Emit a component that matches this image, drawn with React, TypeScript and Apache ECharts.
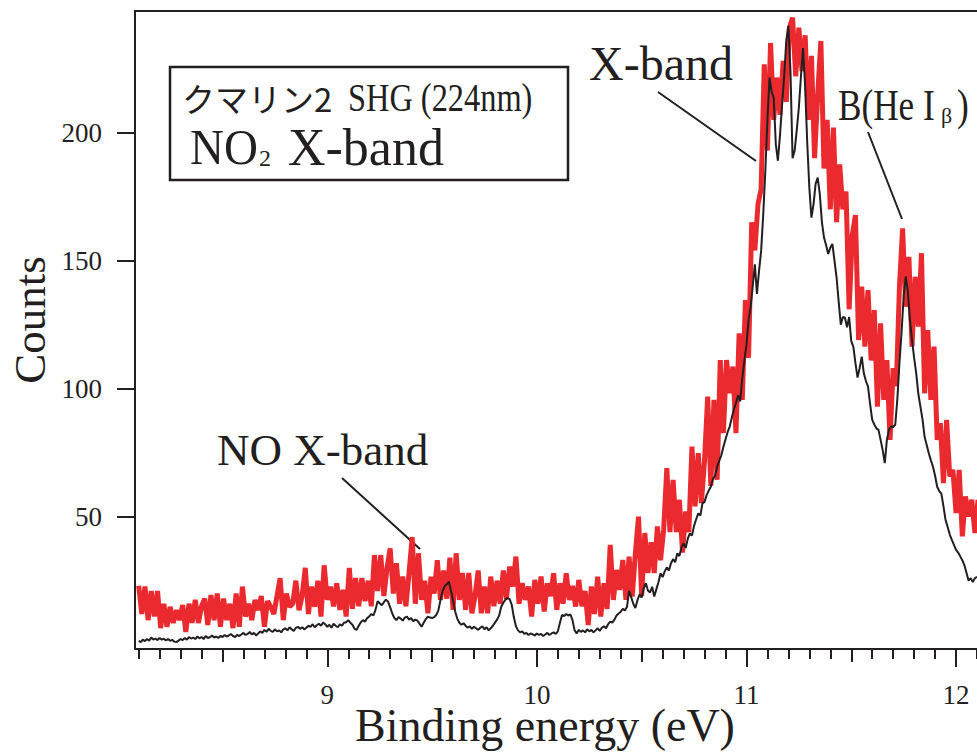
import React, { useEffect, useRef } from "react";
import * as echarts from "echarts";

// Photoelectron spectrum of NO2 (X-band), binding energy in eV vs counts.
// Black trace sampled every 0.01 eV, red trace every 0.015 eV, both starting at 8.10 eV.
const BLACK_START = 8.1;
const BLACK_STEP = 0.01;
const blackCounts = [
  1.5, 1.0, 2.0, 1.4, 2.2, 1.6, 2.8, 2.0, 2.4, 1.8,
  2.6, 2.0, 2.3, 1.7, 2.2, 1.5, 1.9, 1.2, 1.0, 1.6,
  2.2, 1.8, 2.6, 2.0, 3.0, 2.4, 2.8, 2.2, 3.2, 2.5,
  3.0, 2.2, 3.4, 2.6, 2.9, 3.6, 2.8, 3.2, 2.6, 3.4,
  3.0, 3.8, 3.2, 3.6, 4.2, 3.4, 3.0, 3.8, 3.4, 4.0,
  4.6, 3.8, 4.2, 5.0, 4.0, 4.6, 3.6, 4.4, 5.2, 4.6,
  5.8, 5.0, 6.2, 5.4, 5.0, 6.0, 5.2, 5.6, 4.8, 6.0,
  6.4, 5.6, 6.8, 6.0, 5.4, 6.6, 7.0, 6.2, 6.8, 6.0,
  6.6, 7.4, 7.0, 8.0, 6.8, 7.6, 8.2, 7.4, 8.6, 8.0,
  7.0, 7.8, 6.6, 8.2, 7.4, 6.8, 8.0, 7.4, 8.6, 8.8,
  9.6, 8.6, 7.8, 6.2, 5.8, 7.4, 8.8, 9.6, 9.0, 10.4,
  11.0, 12.0, 11.4, 13.6, 17.0, 16.2, 15.4, 16.6, 17.6, 16.8,
  14.6, 12.2, 10.4, 9.6, 10.8, 10.2, 9.4, 10.6, 11.0, 9.8,
  10.4, 9.2, 9.8, 9.4, 8.2, 7.0, 8.6, 10.0, 11.0, 10.6,
  10.4, 10.8, 11.6, 13.4, 17.4, 21.0, 22.8, 23.6, 24.6, 21.2,
  17.2, 13.0, 10.2, 8.6, 7.8, 8.4, 7.4, 6.6, 7.2, 6.2,
  7.0, 6.4, 5.8, 6.6, 7.2, 6.0, 6.8, 5.6, 6.4, 7.4,
  8.6, 9.8, 11.4, 14.8, 16.4, 17.6, 18.2, 17.8, 15.6, 10.8,
  7.2, 5.6, 4.8, 5.2, 4.2, 4.6, 3.8, 4.4, 4.0, 3.6,
  4.4, 3.8, 4.2, 3.4, 4.0, 4.6, 3.8, 4.4, 4.8, 4.2,
  5.2, 8.6, 11.6, 11.2, 12.0, 11.4, 11.8, 9.6, 5.6, 4.4,
  5.8, 5.0, 5.6, 4.8, 6.0, 5.2, 5.8, 4.8, 5.6, 6.4,
  5.4, 6.6, 7.2, 6.4, 8.0, 9.0, 8.6, 9.8, 11.4, 12.2,
  12.9, 14.0, 13.4, 14.8, 21.0, 18.6, 16.0, 14.3, 17.4, 19.6,
  18.4, 22.0, 24.0, 21.2, 20.4, 22.6, 18.8, 21.6, 24.4, 27.9,
  26.4, 28.6, 30.2, 29.0, 31.8, 33.4, 32.2, 35.7, 34.6, 38.0,
  39.6, 37.8, 41.4, 43.5, 42.6, 46.4, 49.0, 51.3, 50.4, 55.2,
  55.8, 58.4, 60.2, 61.7, 64.6, 66.0, 69.5, 71.8, 74.0, 77.3,
  80.2, 83.0, 85.2, 88.6, 92.0, 94.3, 97.4, 95.0, 104, 111,
  117, 126.8, 132, 140, 148.6, 137, 146, 153.8, 168, 185,
  205, 221.5, 216, 213.7, 195.5, 189, 199, 211, 222, 236,
  241.7, 224, 190, 193, 201, 209.8, 222, 233, 218, 196,
  178.5, 166.8, 172, 180, 182.4, 176, 165, 159, 156, 152.6,
  155, 156.5, 150, 143.4, 134, 125, 128, 127.7, 124, 128,
  118.6, 116.4, 110, 104.3, 108, 112.5, 106, 103, 100.8, 94,
  87.8, 86, 84.5, 83.9, 80, 76, 70.9, 80, 84, 85.2,
  85, 86, 96, 110, 122, 136, 143.8, 138, 126.8, 119,
  112, 106, 98, 93, 88, 81.2, 78, 74.8, 72, 69.5,
  66, 61.7, 60, 59, 54, 48.7, 46, 43, 40.9, 39,
  37, 36, 34.5, 33, 31, 28, 25, 26, 24.5, 26,
  26.5,
];

const RED_START = 8.1;
const RED_STEP = 0.015;
const redCounts = [
  // 8.100 – 9.030
  23, 12, 22.7, 9.6, 21, 11, 21, 6.5, 16, 7,
  14.8, 8.5, 13.5, 9.6, 15.5, 5, 16, 8.5, 17.5, 8.5,
  15, 18, 7.7, 19.4, 9.6, 20, 7, 18, 9.6, 16,
  6.5, 20, 7, 22.7, 11, 16, 9.6, 17.5, 13.5, 19,
  7, 17, 14.8, 12, 19, 26, 9.6, 20, 14.8, 16,
  25, 13.5, 19, 30, 12, 22.7, 14.8, 25, 11, 31,
  17.5, 22.7, 15,
  // 9.045 – 10.005
  24, 13.6, 21.4, 11, 30, 14, 26, 15, 26, 17,
  25, 15, 35, 21, 35, 19, 30, 37.6, 20, 31.8,
  16, 26.6, 15, 28, 42, 16, 35.7, 17.5, 25, 12.3,
  26.6, 20, 33, 17.5, 29, 18, 34, 13.6, 35.7, 17.5,
  28, 13.6, 28, 12.3, 19, 29, 12.3, 22.7, 12.3, 26.6,
  15, 25, 16, 29, 18, 30.5, 22.7, 34.4, 16, 24,
  17.5, 22.7, 11, 25.3, 16,
  // 10.020 – 10.995
  26.6, 13, 24, 19, 27.9, 13.6, 24, 16, 27.9, 17.5,
  23, 14.9, 25.3, 15, 21, 7.7, 22.7, 12, 26.6, 11,
  24, 14, 39, 17.5, 29.2, 21.4, 33.1, 17.5, 34.4, 18.8,
  35.7, 50, 19, 43.6, 28, 40, 28, 46.2, 33, 45,
  69, 44, 64.4, 44, 56.6, 36, 52, 44, 77.4, 54,
  74.8, 55.3, 72, 96.9, 62, 95.6, 64.4, 111.2, 82.6, 111.2,
  98.2, 108.6, 82.6, 121.6, 95.6, 134.6,
  // 11.010 – 11.505
  112, 165, 154, 172, 178, 226.7, 193, 235, 205, 221.5,
  207, 228, 212, 241, 244.9, 222, 241, 224, 238, 205,
  230, 190, 215, 235.8, 186, 205, 170, 202, 165, 187.6,
  170, 177, 131, 160,
  // 11.520 – 12.105
  167.8, 119, 139.8, 116.4, 138.5, 111, 130.7, 93, 125.5, 95.6,
  111.2, 80, 108, 101, 139.8, 162.6, 132, 151.5, 116.4, 143.7,
  124.2, 152.9, 98.2, 122.9, 95.6, 116.4, 80, 86.5, 63.1, 87.8,
  65.7, 68.3, 51.4, 68.3, 42.3, 57.9, 50.1, 56.6, 43.6, 56.6,
];

const majorTicks = [9, 10, 11, 12];
const halfTicks = [8.5, 9.5, 10.5, 11.5];
const yTicks = [50, 100, 150, 200];

const X_MIN = 8.0825;
const X_MAX = 12.1;
const Y_MIN = -1.68;
const Y_MAX = 247.5;

const INK = "#231f20";
const RED = "#ea2a2f";
const SERIF = '"Liberation Serif", "Times New Roman", serif';
const CJK = '"Noto Sans CJK JP", sans-serif';

const toPairs = (start: number, step: number, vals: number[]) =>
  vals.map((v, i) => [Math.round((start + i * step) * 1000) / 1000, v]);

const txt = (
  text: string,
  x: number,
  y: number,
  size: number,
  extra: Record<string, any> = {},
  family: string = SERIF,
  lineHeight?: number
) => ({
  type: "text",
  x,
  y,
  silent: true,
  ...extra,
  style: {
    text,
    fill: INK,
    fontSize: size,
    fontFamily: family,
    lineHeight: lineHeight || size,
    align: extra.align || "left",
    textAlign: extra.align || "left",
    verticalAlign: "middle",
    textVerticalAlign: "middle",
  },
});

const line = (x1: number, y1: number, x2: number, y2: number, w = 2) => ({
  type: "line",
  silent: true,
  shape: { x1, y1, x2, y2 },
  style: { stroke: INK, lineWidth: w },
});

export default function App() {
  const ref = useRef<HTMLDivElement>(null);

  useEffect(() => {
    if (!ref.current) return;
    const chart = echarts.init(ref.current, null, { renderer: "svg" });

    const minorTicks: number[] = [];
    for (let k = 81; k <= 121; k++) {
      if (k % 5 !== 0) minorTicks.push(k / 10);
    }

    const tickAxis = (values: number[], length: number, withLine: boolean, withLabel: boolean) => ({
      type: "value",
      min: X_MIN,
      max: X_MAX,
      position: "bottom",
      axisLine: { show: withLine, onZero: false, lineStyle: { color: INK, width: 2 } },
      axisTick: { show: true, customValues: values, length, lineStyle: { color: INK, width: 2 } },
      axisLabel: {
        show: withLabel,
        customValues: values,
        margin: 35,
        fontSize: 27,
        lineHeight: 22,
        fontFamily: SERIF,
        color: INK,
      },
      splitLine: { show: false },
    });

    const option: any = {
      animation: false,
      backgroundColor: "#ffffff",
      grid: { left: 135, right: 0, top: 11, bottom: 103, containLabel: false },
      xAxis: [
        tickAxis(majorTicks, 18, true, true),
        tickAxis(halfTicks, 13, false, false),
        tickAxis(minorTicks, 10, false, false),
      ],
      yAxis: {
        type: "value",
        min: Y_MIN,
        max: Y_MAX,
        axisLine: { show: true, onZero: false, lineStyle: { color: INK, width: 2 } },
        axisTick: { show: true, customValues: yTicks, length: 18, lineStyle: { color: INK, width: 2 } },
        axisLabel: {
          customValues: yTicks,
          margin: 33,
          fontSize: 27,
          fontFamily: SERIF,
          color: INK,
        },
        splitLine: { show: false },
      },
      series: [
        {
          name: "red",
          type: "line",
          xAxisIndex: 0,
          yAxisIndex: 0,
          data: toPairs(RED_START, RED_STEP, redCounts),
          showSymbol: false,
          silent: true,
          z: 2,
          lineStyle: { color: RED, width: 5 },
        },
        {
          name: "black",
          type: "line",
          xAxisIndex: 0,
          yAxisIndex: 0,
          data: toPairs(BLACK_START, BLACK_STEP, blackCounts),
          showSymbol: false,
          silent: true,
          z: 3,
          lineStyle: { color: INK, width: 2 },
        },
      ],
      graphic: {
        elements: [
          // top frame edge
          line(134, 11, 977, 11, 2),
          // legend box
          {
            type: "rect",
            silent: true,
            shape: { x: 170, y: 67, width: 398, height: 113 },
            style: { fill: "#ffffff", stroke: INK, lineWidth: 2.5 },
            z: 10,
          },
          { ...txt("クマリン2", 182, 98, 33, {}, CJK), z: 11 },
          { ...txt("SHG (224nm)", 348, 98, 40, { scaleX: 0.81 }), z: 11 },
          { ...txt("NO", 190, 147, 50, { scaleX: 0.94 }), z: 11 },
          { ...txt("2", 259, 158, 24), z: 11 },
          { ...txt("X-band", 288, 147, 52), z: 11 },
          // peak labels and leader lines
          txt("X-band", 589, 63, 48),
          line(658, 92, 756, 161),
          txt("B(He I", 838, 105, 44, { scaleX: 0.8 }),
          txt("β", 941, 115, 22),
          txt(")", 957, 105, 44, { scaleX: 0.8 }),
          line(868, 132, 902, 219),
          txt("NO X-band", 217, 450, 45),
          line(342, 478, 420, 549),
          // axis titles
          txt("Counts", 30, 320, 45, { rotation: Math.PI / 2, align: "center" }),
          txt("Binding energy (eV)", 545, 725, 46, { align: "center" }, SERIF, 30),
        ],
      },
    };

    chart.setOption(option);
    return () => chart.dispose();
  }, []);

  return (
    <div
      ref={ref}
      style={{ position: "fixed", left: 0, top: 0, width: 977, height: 752, background: "#ffffff" }}
    />
  );
}
